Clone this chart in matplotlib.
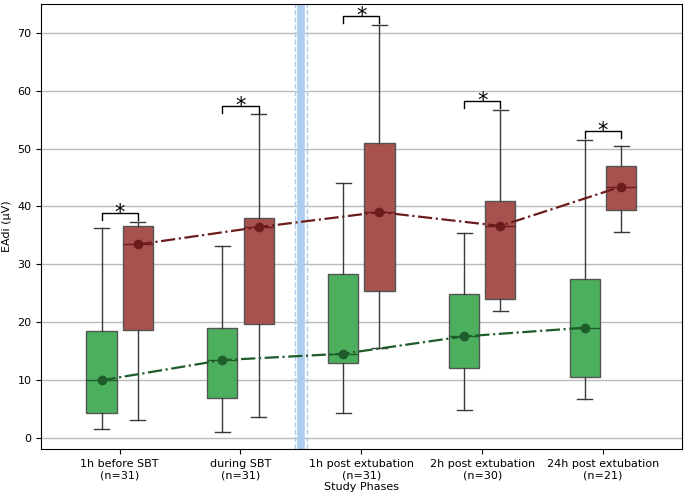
import numpy as np
import matplotlib; matplotlib.use("Agg")
import matplotlib.pyplot as plt

phases = ['1h before SBT\n(n=31)', 'during SBT\n(n=31)', '1h post extubation\n(n=31)',
          '2h post extubation\n(n=30)', '24h post extubation\n(n=21)']

# five-number summaries: whislo, q1, med, q3, whishi
green_lo = [1.5, 1.0, 4.3, 4.8, 6.6]
green_q1 = [4.2, 6.9, 12.9, 12.0, 10.4]
green_med = [9.9, 13.4, 14.5, 17.5, 19.0]
green_q3 = [18.4, 18.9, 28.3, 24.9, 27.4]
green_hi = [36.3, 33.1, 44.1, 35.3, 51.5]

red_lo = [3.0, 3.5, 15.5, 21.9, 35.6]
red_q1 = [18.6, 19.7, 25.3, 24.0, 39.4]
red_med = [33.4, 36.4, 39.0, 36.6, 43.4]
red_q3 = [36.6, 37.9, 51.0, 40.9, 47.0]
red_hi = [37.3, 55.9, 71.4, 56.7, 50.4]

def stats(lo, q1, med, q3, hi):
    return [dict(whislo=a, q1=b, med=c, q3=d, whishi=e, fliers=[])
            for a, b, c, d, e in zip(lo, q1, med, q3, hi)]

fig = plt.figure(figsize=(6.85, 4.99), dpi=100)
ax = fig.add_axes([0.06, 0.1, 0.935, 0.892])

x = np.arange(len(phases))
off = 0.15
w = 0.25

for lo, q1, med, q3, hi, pos, fc, mc in [
        (green_lo, green_q1, green_med, green_q3, green_hi, x - off, '#4caf5e', '#1f5c2c'),
        (red_lo, red_q1, red_med, red_q3, red_hi, x + off, '#a8524f', '#6b1c1c')]:
    ax.bxp(stats(lo, q1, med, q3, hi), positions=pos, widths=w, patch_artist=True,
           showfliers=False,
           boxprops=dict(facecolor=fc, edgecolor='#555555', linewidth=1),
           whiskerprops=dict(color='#3a3a3a', linewidth=1),
           capprops=dict(color='#3a3a3a', linewidth=1),
           medianprops=dict(color=mc, linewidth=1), zorder=2)
    ax.plot(pos, med, linestyle='-.', color=mc, marker='o', markersize=6,
            linewidth=1.6, zorder=3)

# significance brackets
for i in range(len(phases)):
    top = max(green_hi[i], red_hi[i]) + 1.5
    ax.plot([x[i] - off, x[i] - off, x[i] + off, x[i] + off],
            [top - 1.2, top, top, top - 1.2], color='black', linewidth=1)
    ax.text(x[i], top - 1.0, '*', ha='center', va='baseline', fontsize=15)

# separator between SBT and extubation phases
ax.axvline(1.5, color='#aecbf0', linewidth=5.5, zorder=1)
ax.axvline(1.45, color='#aecbf0', linewidth=1, linestyle='--', zorder=1)
ax.axvline(1.55, color='#aecbf0', linewidth=1, linestyle='--', zorder=1)

ax.set_xticks(x)
ax.set_xticklabels(phases, fontsize=8)
ax.tick_params(axis='y', labelsize=8)
ax.set_xlim(-0.65, 4.65)
ax.set_ylim(-2, 75)
ax.yaxis.grid(True, color='#bbbbbb', linewidth=1)
ax.set_axisbelow(True)
ax.set_xlabel('Study Phases', fontsize=8, labelpad=1)
ax.set_ylabel('EAdi (μV)', fontsize=8)

fig.savefig('out.png')
